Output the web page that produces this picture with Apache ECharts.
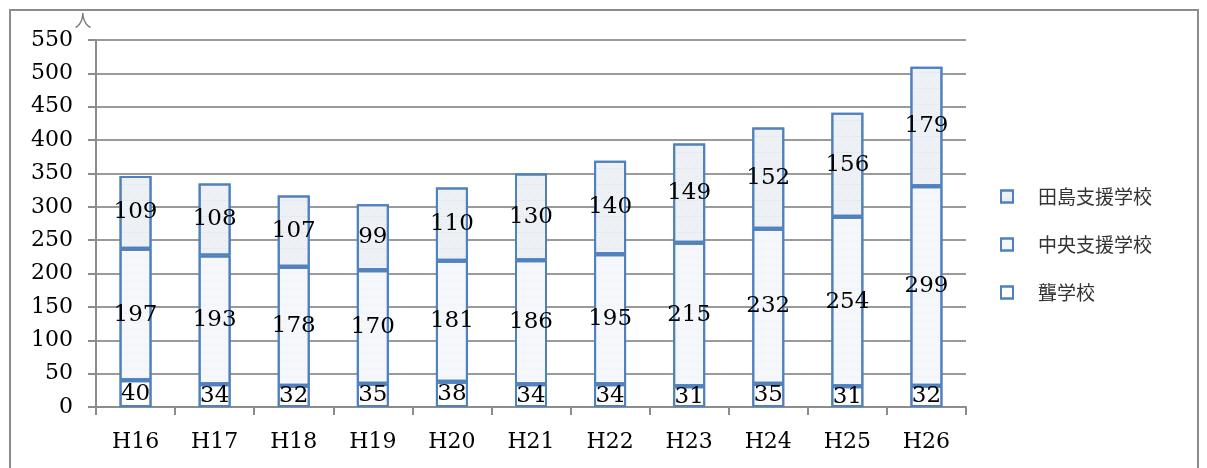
<!DOCTYPE html>
<html><head><meta charset="utf-8">
<script src="https://cdn.jsdelivr.net/npm/echarts@6/dist/echarts.min.js"></script>
<style>
html,body{margin:0;padding:0;background:#fff;}
#frame{position:absolute;left:9px;top:9px;width:1190px;height:470px;border:2px solid #8c8c8c;box-sizing:border-box;}
#c{position:absolute;left:0;top:0;width:1207px;height:468px;}
</style></head>
<body><div id="frame"></div><div id="c"></div>
<script>
const categories = ['H16','H17','H18','H19','H20','H21','H22','H23','H24','H25','H26'];
const tajima = [109,108,107,99,110,130,140,149,152,156,179];
const chuo = [197,193,178,170,181,186,195,215,232,254,299];
const rou = [40,34,32,35,38,34,34,31,35,31,32];
const names = ['田島支援学校','中央支援学校','聾学校'];

const serif = '"DejaVu Serif","Liberation Serif",serif';
const lbl = {show:true, position:'inside', color:'#000', fontFamily:serif, fontSize:23};
const border = '#4f81bd';
const chart = echarts.init(document.getElementById('c'));
chart.setOption({
  animation:false,
  aria:{enabled:true, decal:{show:true}},
  grid:{left:96, right:241, top:40, bottom:61},
  legend:{
    orient:'vertical', right:50, top:182, itemGap:29, itemWidth:12, itemHeight:12, icon:'rect',
    data:[names[0],names[1],names[2]],
    textStyle:{fontFamily:'"Noto Sans CJK JP",sans-serif', fontSize:19, color:'#333', padding:[0,0,0,20]}
  },
  xAxis:{
    type:'category', data:categories,
    axisLine:{lineStyle:{color:'#8c8c8c', width:2}},
    axisTick:{show:true, length:8, lineStyle:{color:'#8c8c8c', width:2}},
    axisLabel:{fontFamily:serif, fontSize:22, color:'#000', margin:24}
  },
  yAxis:{
    type:'value', min:0, max:550, interval:50,
    name:'人', nameGap:6,
    nameTextStyle:{fontFamily:'"Noto Sans CJK JP",sans-serif', fontSize:17, color:'#777', padding:[0,0,0,-26]},
    axisLine:{show:true, lineStyle:{color:'#8c8c8c', width:2}},
    axisTick:{show:true, length:8, lineStyle:{color:'#8c8c8c', width:2}},
    splitLine:{lineStyle:{color:'#9a9a9a', width:2}},
    axisLabel:{fontFamily:serif, fontSize:22, color:'#000', margin:23}
  },
  series:[
    {name:names[2], type:'bar', stack:'a', data:rou, barWidth:32,
     itemStyle:{color:'#ffffff', borderColor:border, borderWidth:2, decal:{symbol:'none'}}, label:lbl},
    {name:names[1], type:'bar', stack:'a', data:chuo,
     itemStyle:{color:'#f5f7fa', borderColor:border, borderWidth:2,
       decal:{symbol:'circle', symbolSize:0.3, dashArrayX:[1,0], dashArrayY:[2,6], color:'rgba(110,150,205,0.6)', rotation:0}}, label:lbl},
    {name:names[0], type:'bar', stack:'a', data:tajima,
     itemStyle:{color:'#edf1f5', borderColor:border, borderWidth:2,
       decal:{symbol:'rect', symbolSize:0.3, dashArrayX:[[1,0],[2,6]], dashArrayY:[1,7], color:'rgba(140,150,165,0.5)', rotation:0}}, label:lbl}
  ]
});
</script></body></html>
